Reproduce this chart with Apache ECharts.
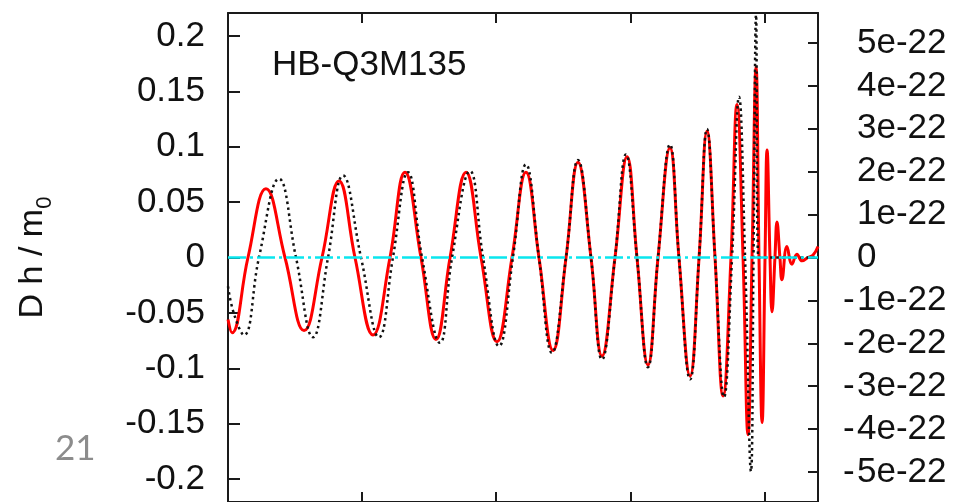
<!DOCTYPE html>
<html>
<head>
<meta charset="utf-8">
<script src="https://cdn.jsdelivr.net/npm/echarts@6/dist/echarts.min.js"></script>
<style>
html,body{margin:0;padding:0;background:#fff;}
#chart{width:975px;height:502px;}
</style>
</head>
<body>
<div id="chart"></div>
<script>
// ---- data ----
const panelLabel = 'HB-Q3M135';
const yAxisTitle = 'D h / m';
const slideNumber = '21';

// red solid waveform [x, Dh/m0]
const redX = [0, 0.030, 0.149, 0.283, 0.425, 0.567, 0.701, 0.828, 0.947, 1.081, 1.208, 1.320, 1.439, 1.551, 1.656, 1.775, 1.887, 2.006, 2.118, 2.222, 2.319, 2.424, 2.521, 2.610, 2.707, 2.789, 2.886, 2.976, 3.050, 3.132, 3.207, 3.296, 3.363, 3.446, 3.513, 3.572, 3.632, 3.692, 3.751, 3.796, 3.841, 3.878, 3.908, 3.938, 3.960, 3.983, 4.005, 4.020, 4.042, 4.057, 4.079, 4.094, 4.116, 4.131, 4.168, 4.206, 4.243, 4.281, 4.325, 4.362, 4.400];
const redY = [-0.056, -0.068, 0, 0.062, 0, -0.066, 0, 0.069, 0, -0.070, 0, 0.077, 0, -0.074, 0, 0.077, 0, -0.076, 0, 0.077, 0, -0.084, 0, 0.086, 0, -0.089, 0, 0.091, 0, -0.097, 0, 0.099, 0, -0.107, 0, 0.114, 0, -0.125, 0, 0.138, 0, -0.160, 0, 0.172, 0, -0.149, 0, 0.097, 0, -0.049, 0, 0.032, 0, -0.020, 0.010, -0.006, 0.003, -0.003, 0, 0.002, 0.010];

// black dotted waveform [x, Dh/m0]
const blackX = [0, 0.045, 0.119, 0.231, 0.380, 0.507, 0.634, 0.746, 0.858, 0.992, 1.126, 1.230, 1.342, 1.447, 1.581, 1.671, 1.805, 1.902, 2.021, 2.125, 2.222, 2.319, 2.416, 2.521, 2.610, 2.707, 2.789, 2.886, 2.968, 3.050, 3.132, 3.207, 3.296, 3.363, 3.446, 3.513, 3.572, 3.632, 3.699, 3.759, 3.811, 3.856, 3.900, 3.919, 3.938, 3.956, 4.400];
const blackY = [-0.026, -0.051, -0.070, 0, 0.071, 0, -0.072, 0, 0.074, 0, -0.072, 0, 0.077, 0, -0.077, 0, 0.078, 0, -0.080, 0, 0.084, 0, -0.086, 0, 0.088, 0, -0.092, 0, 0.093, 0, -0.099, 0, 0.102, 0, -0.110, 0, 0.116, 0, -0.126, 0, 0.145, 0, -0.193, 0, 0.219, 0, 0];

// cyan zero line
const zeroX = [0, 4.4];
const zeroY = [0, 0];

// axes
const xRange = [0, 4.4];
const xTicks = [1, 2, 3, 4];
const leftRange = [-0.2207, 0.2207];
const leftTicks = [-0.2, -0.15, -0.1, -0.05, 0, 0.05, 0.1, 0.15, 0.2];
const leftTickLabels = ['-0.2', '-0.15', '-0.1', '-0.05', '0', '0.05', '0.1', '0.15', '0.2'];
const rightRange = [-5.698, 5.698];           // in units of 1e-22
const rightTicks = [-5, -4, -3, -2, -1, 0, 1, 2, 3, 4, 5];
const rightTickLabels = ['-5e-22', '-4e-22', '-3e-22', '-2e-22', '-1e-22', '0', '1e-22', '2e-22', '3e-22', '4e-22', '5e-22'];

const zip = (xs, ys) => xs.map((x, i) => [x, ys[i]]);

const FONT = 'Liberation Sans, Arial, sans-serif';
const axisColor = '#1a1a1a';

const chart = echarts.init(document.getElementById('chart'), null, {renderer: 'canvas'});

const xAxisCommon = {
  type: 'value', min: xRange[0], max: xRange[1],
  axisLine: {show: true, onZero: false, lineStyle: {color: axisColor, width: 2}},
  axisTick: {show: true, inside: true, length: 10, customValues: xTicks, lineStyle: {color: axisColor, width: 2}},
  axisLabel: {show: false},
  splitLine: {show: false}
};

chart.setOption({
  animation: false,
  backgroundColor: '#ffffff',
  title: {
    text: panelLabel, left: 272, top: 48, padding: 0,
    textStyle: {fontSize: 35, fontWeight: 'normal', color: '#111', fontFamily: FONT}
  },
  grid: {left: 228, top: 13, width: 590, height: 490, containLabel: false},
  xAxis: [
    Object.assign({position: 'bottom'}, xAxisCommon),
    Object.assign({position: 'top'}, xAxisCommon)
  ],
  yAxis: [
    {
      type: 'value', position: 'left', min: leftRange[0], max: leftRange[1],
      axisLine: {show: true, onZero: false, lineStyle: {color: axisColor, width: 2}},
      axisTick: {show: true, inside: true, length: 12, customValues: leftTicks, lineStyle: {color: axisColor, width: 2}},
      axisLabel: {
        show: true, customValues: leftTicks, margin: 23,
        fontSize: 35, color: '#111', fontFamily: FONT,
        formatter: (v) => { const i = leftTicks.findIndex(t => Math.abs(t - v) < 1e-9); return i >= 0 ? leftTickLabels[i] : ''; }
      },
      splitLine: {show: false},
      name: yAxisTitle + '{sub|0}',
      nameLocation: 'middle', nameRotate: 90, nameGap: 178,
      nameTextStyle: {
        fontSize: 34, color: '#111', fontFamily: FONT,
        rich: {sub: {fontSize: 22, color: '#111', fontFamily: FONT, verticalAlign: 'bottom', padding: [0, 0, -6, 0]}}
      }
    },
    {
      type: 'value', position: 'right', min: rightRange[0], max: rightRange[1],
      axisLine: {show: true, onZero: false, lineStyle: {color: axisColor, width: 2}},
      axisTick: {show: true, inside: true, length: 10, customValues: rightTicks, lineStyle: {color: axisColor, width: 2}},
      axisLabel: {
        show: true, customValues: rightTicks, margin: 25,
        fontSize: 35, color: '#111', fontFamily: FONT,
        formatter: (v) => {
          const i = rightTicks.findIndex(t => Math.abs(t - v) < 1e-9);
          if (i < 0) return '';
          const s = rightTickLabels[i];
          return s.charAt(0) === '-' ? '{s|-}' + s.slice(1) : '{s| }' + s;
        },
        rich: {s: {width: 14, fontSize: 35, color: '#111', fontFamily: FONT}}
      },
      splitLine: {show: false}
    }
  ],
  graphic: [
    {type: 'text', left: 55, top: 431, style: {text: slideNumber, fontSize: 35, fill: '#8c8c8c', fontFamily: 'Lato, Open Sans, sans-serif'}}
  ],
  series: [
    {
      name: 'red', type: 'line', xAxisIndex: 0, yAxisIndex: 0,
      data: zip(redX, redY), showSymbol: false, smooth: 0.45,
      lineStyle: {color: '#ff0000', width: 3}, z: 2
    },
    {
      name: 'black', type: 'line', xAxisIndex: 0, yAxisIndex: 0,
      data: zip(blackX, blackY), showSymbol: false, smooth: 0.45,
      lineStyle: {color: '#111111', width: 2.5, type: [2.5, 3.5]}, z: 3
    },
    {
      name: 'zero', type: 'line', xAxisIndex: 0, yAxisIndex: 0,
      data: zip(zeroX, zeroY), showSymbol: false,
      lineStyle: {color: '#0ae6ee', width: 2.5, type: [18, 4, 3, 4]}, z: 4
    }
  ]
});
</script>
</body>
</html>
